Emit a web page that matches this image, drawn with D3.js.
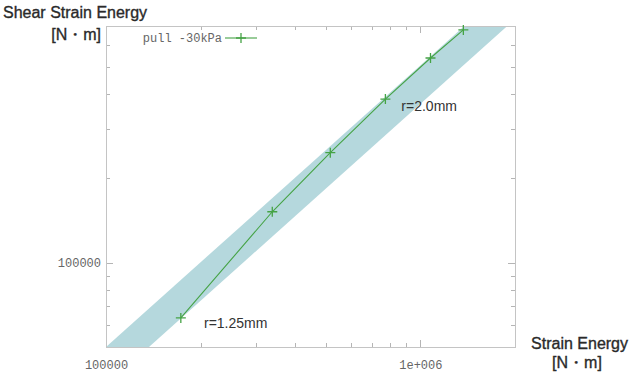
<!DOCTYPE html>
<meta charset="utf-8">
<title>Shear Strain Energy</title>
<script src="https://cdn.jsdelivr.net/npm/d3@7"></script>
<style>
  body { margin: 0; background: #fff; }
  .tick-label { font-family: "Liberation Mono", monospace; font-size: 12px; fill: #666; }
  .title { font-family: "Liberation Sans", Arial, sans-serif; font-size: 16px; fill: #2a2a2a; stroke: #2a2a2a; stroke-width: 0.35px; }
  .note { font-family: "Liberation Sans", Arial, sans-serif; font-size: 14px; fill: #333; }
</style>
<body>
<script>

// data
var strainEnergy = [1.73e5, 3.38e5, 5.17e5, 7.74e5, 1.077e6, 1.37e6];
var shearEnergy  = [6.35e4, 1.52e5, 2.47e5, 3.84e5, 5.38e5, 6.78e5];
var seriesName = "pull -30kPa";

// shaded band, corners as [strain, shear]
var bandCorners = [[1.0e5, 5.0e4], [1.37e5, 5.0e4], [1.89e6, 7.0e5], [1.38e6, 7.0e5]];

var xDomain = [1e5, 2e6], yDomain = [5e4, 7e5];
var xTicks = [1e5, 1e6], xTickLabels = ["100000", "1e+006"];
var yTicks = [1e5],      yTickLabels = ["100000"];

var notes = [
  {text: "r=2.0mm",  at: [8.7e5, 3.48e5]},
  {text: "r=1.25mm", at: [2.05e5, 5.85e4]}
];

var svg_w = 629, svg_h = 374
   ,pL = 106, pR = 515, pT = 26, pB = 347
   ,green = "#45a345";

var svg = d3.select("body").append("svg")
            .attr("width", svg_w)
            .attr("height", svg_h);

var x = d3.scaleLog().domain(xDomain).range([pL, pR]);
var y = d3.scaleLog().domain(yDomain).range([pB, pT]);

svg.append("clipPath").attr("id", "plot")
  .append("rect")
  .attr("x", pL).attr("y", pT)
  .attr("width", pR - pL).attr("height", pB - pT);

var line = d3.line().x(function (d) { return x(d[0]) }).y(function (d) { return y(d[1]) });

// band
svg.append("path")
  .attr("clip-path", "url(#plot)")
  .attr("d", line(bandCorners) + "Z")
  .attr("fill", "#b5d8dd");

// log ticks, major and minor, inward on all four sides
function logTicks(dom) {
  var out = [];
  for (var e = Math.floor(Math.log10(dom[0])); e <= Math.ceil(Math.log10(dom[1])); e++) {
    for (var m = 1; m < 10; m++) {
      var v = m * Math.pow(10, e);
      if (v >= dom[0] * 0.999 && v <= dom[1] * 1.001) out.push({v: v, major: m == 1});
    }
  }
  return out;
}

var ticksG = svg.append("g").attr("stroke", "#b5b5b5").attr("stroke-width", 1);

logTicks(xDomain).forEach(function (t) {
  var len = t.major ? 7 : 4, px = Math.round(x(t.v)) + 0.5;
  ticksG.append("line").attr("x1", px).attr("x2", px).attr("y1", pB).attr("y2", pB - len);
  ticksG.append("line").attr("x1", px).attr("x2", px).attr("y1", pT).attr("y2", pT + len);
});
logTicks(yDomain).forEach(function (t) {
  var len = t.major ? 7 : 4, py = Math.round(y(t.v)) + 0.5;
  ticksG.append("line").attr("y1", py).attr("y2", py).attr("x1", pL).attr("x2", pL + len);
  ticksG.append("line").attr("y1", py).attr("y2", py).attr("x1", pR).attr("x2", pR - len);
});

// frame
svg.append("rect")
  .attr("x", pL + 0.5).attr("y", pT + 0.5)
  .attr("width", pR - pL).attr("height", pB - pT)
  .attr("fill", "none").attr("stroke", "#c4c4c4");

// tick labels via axes
var xAxis = d3.axisBottom(x).tickValues(xTicks)
  .tickFormat(function (d, i) { return xTickLabels[i] })
  .tickSize(0).tickPadding(13);
var gx = svg.append("g").attr("transform", "translate(0," + pB + ")").call(xAxis);

var yAxis = d3.axisLeft(y).tickValues(yTicks)
  .tickFormat(function (d, i) { return yTickLabels[i] })
  .tickSize(0).tickPadding(5);
var gy = svg.append("g").attr("transform", "translate(" + pL + ",0)").call(yAxis);

[gx, gy].forEach(function (g) {
  g.select(".domain").remove();
  g.attr("font-family", null).attr("font-size", null);
  g.selectAll("text").attr("class", "tick-label").attr("fill", null);
});

// series line and markers
var pts = strainEnergy.map(function (v, i) { return [v, shearEnergy[i]] });

svg.append("path")
  .attr("d", line(pts))
  .attr("fill", "none").attr("stroke", green).attr("stroke-width", 1.1);

function plus(g, cx, cy) {
  g.append("path")
    .attr("d", "M" + (cx - 5) + "," + cy + "H" + (cx + 5) + "M" + cx + "," + (cy - 5) + "V" + (cy + 5))
    .attr("stroke", green).attr("stroke-width", 1.3).attr("fill", "none");
}
var marks = svg.append("g");
pts.forEach(function (d) { plus(marks, x(d[0]), y(d[1])) });

// legend
svg.append("text").attr("class", "tick-label")
  .attr("x", 222).attr("y", 42).attr("text-anchor", "end")
  .text(seriesName);
svg.append("line")
  .attr("x1", 225).attr("x2", 257).attr("y1", 38).attr("y2", 38)
  .attr("stroke", green).attr("stroke-width", 1.1);
plus(svg, 241, 38);

// annotations
svg.selectAll(".note").data(notes).enter()
  .append("text").attr("class", "note")
  .attr("x", function (d) { return x(d.at[0]) })
  .attr("y", function (d) { return y(d.at[1]) })
  .text(function (d) { return d.text });

// axis titles
svg.append("text").attr("class", "title").attr("x", 3).attr("y", 18).text("Shear Strain Energy");
svg.append("text").attr("class", "title").attr("x", 101).attr("y", 40).attr("text-anchor", "end").text("[N・m]");
svg.append("text").attr("class", "title").attr("x", 628).attr("y", 349).attr("text-anchor", "end").text("Strain Energy");
svg.append("text").attr("class", "title").attr("x", 577).attr("y", 368).attr("text-anchor", "middle").text("[N・m]");

</script>
</body>
